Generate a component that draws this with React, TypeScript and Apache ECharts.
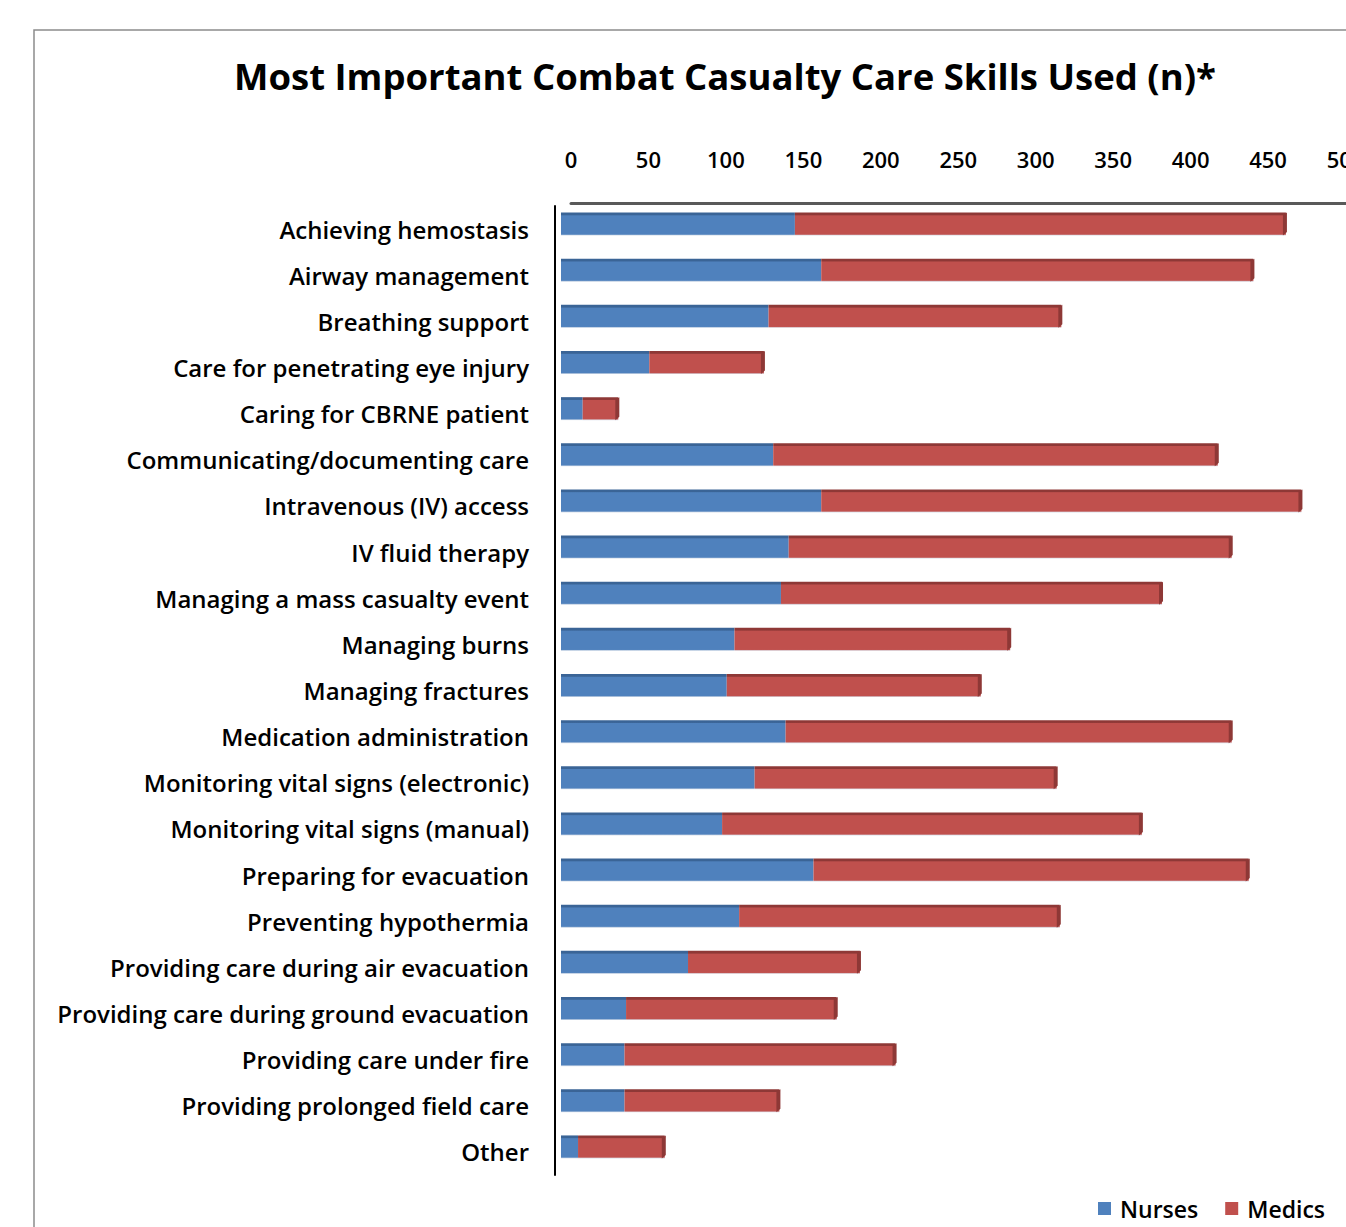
import React, { useEffect, useRef } from "react";
import * as echarts from "echarts";

const categories = [
  "Achieving hemostasis",
  "Airway management",
  "Breathing support",
  "Care for penetrating eye injury",
  "Caring for CBRNE patient",
  "Communicating/documenting care",
  "Intravenous (IV) access",
  "IV fluid therapy",
  "Managing a mass casualty event",
  "Managing burns",
  "Managing fractures",
  "Medication administration",
  "Monitoring vital signs (electronic)",
  "Monitoring vital signs (manual)",
  "Preparing for evacuation",
  "Preventing hypothermia",
  "Providing care during air evacuation",
  "Providing care during ground evacuation",
  "Providing care under fire",
  "Providing prolonged field care",
  "Other",
];

const nurses = [151, 168, 134, 57, 14, 137, 168, 147, 142, 112, 107, 145, 125, 104, 163, 115, 82, 42, 41, 41, 11];
const medics = [317, 279, 189, 74, 23, 287, 310, 286, 246, 178, 164, 288, 195, 271, 281, 207, 111, 136, 175, 100, 56];

const xTicks = { min: 0, max: 500, interval: 50 };

const BLUE = "#4f81bd";
const BLUE_DARK = "#3a6496";
const RED = "#c0504d";
const RED_DARK = "#8e3836";

const FONT = "'Open Sans', Lato, sans-serif";

function barGradient(dark: string, main: string) {
  return {
    type: "linear",
    x: 0,
    y: 0,
    x2: 0,
    y2: 1,
    colorStops: [
      { offset: 0, color: dark },
      { offset: 0.1, color: dark },
      { offset: 0.14, color: main },
      { offset: 0.94, color: main },
      { offset: 1, color: "#d9e0ea" },
    ],
  };
}

export default function App() {
  const ref = useRef<HTMLDivElement>(null);

  useEffect(() => {
    if (!ref.current) return;
    const chart = echarts.init(ref.current, undefined, { renderer: "svg" });
    const totals = nurses.map((n, i) => n + medics[i]);

    chart.setOption({
      animation: false,
      backgroundColor: "#ffffff",
      title: {
        text: "Most Important Combat Casualty Care Skills Used (n)*",
        left: 720,
        top: 52,
        textAlign: "center",
        textStyle: {
          fontFamily: FONT,
          fontWeight: "bold",
          fontSize: 36.5,
          color: "#000000",
        },
      },
      graphic: [
        {
          type: "rect",
          z: -10,
          shape: { x: 34, y: 30, width: 1400, height: 1300 },
          style: { fill: "none", stroke: "#8c8c8c", lineWidth: 1.5 },
        },
      ],
      legend: {
        right: 16,
        top: 1192,
        itemWidth: 13,
        itemHeight: 13,
        itemGap: 27,
        icon: "rect",
        textStyle: {
          fontFamily: FONT,
          fontWeight: 600,
          fontSize: 23,
          color: "#000000",
          padding: [0, 0, 0, 4],
        },
        data: [
          { name: "Nurses", itemStyle: { color: BLUE } },
          { name: "Medics", itemStyle: { color: RED } },
        ],
      },
      grid: [
        { left: 561, top: 201, width: 774.5, height: 969, outerBoundsMode: "none" },
        { left: 571, top: 193, width: 774.5, height: 10, outerBoundsMode: "none" },
        { left: 555, top: 206, width: 774.5, height: 969, outerBoundsMode: "none" },
      ],
      xAxis: [
        {
          type: "value",
          gridIndex: 0,
          min: xTicks.min,
          max: xTicks.max,
          interval: xTicks.interval,
          show: false,
        },
        {
          type: "value",
          gridIndex: 1,
          position: "top",
          min: xTicks.min,
          max: xTicks.max,
          interval: xTicks.interval,
          axisLine: { show: true, lineStyle: { color: "#595959", width: 3 } },
          axisTick: { show: false },
          splitLine: { show: false },
          axisLabel: {
            margin: 23,
            fontFamily: FONT,
            fontWeight: 600,
            fontSize: 22,
            color: "#000000",
          },
        },
        {
          type: "value",
          gridIndex: 2,
          min: xTicks.min,
          max: xTicks.max,
          show: false,
        },
      ],
      yAxis: [
        {
          type: "category",
          gridIndex: 0,
          data: categories,
          inverse: true,
          show: false,
        },
        { type: "value", gridIndex: 1, show: false },
        {
          type: "category",
          gridIndex: 2,
          data: categories,
          inverse: true,
          axisLine: { show: true, lineStyle: { color: "#000000", width: 2 } },
          axisTick: { show: false },
          axisLabel: {
            margin: 26,
            fontFamily: FONT,
            fontWeight: 600,
            fontSize: 24,
            color: "#000000",
          },
        },
      ],
      series: [
        {
          name: "Nurses",
          type: "bar",
          stack: "total",
          xAxisIndex: 0,
          yAxisIndex: 0,
          barWidth: 23,
          itemStyle: { color: barGradient(BLUE_DARK, BLUE) },
          data: nurses,
        },
        {
          name: "Medics",
          type: "bar",
          stack: "total",
          xAxisIndex: 0,
          yAxisIndex: 0,
          barWidth: 23,
          itemStyle: { color: barGradient(RED_DARK, RED) },
          data: medics,
        },
        {
          name: "cap",
          type: "custom",
          xAxisIndex: 0,
          yAxisIndex: 0,
          z: 5,
          encode: { x: 0, y: 1 },
          data: totals.map((t, i) => [t, i]),
          renderItem: (params: any, api: any) => {
            const pt = api.coord([api.value(0), api.value(1)]);
            return {
              type: "polygon",
              shape: {
                points: [
                  [pt[0] - 3, pt[1] - 9],
                  [pt[0] + 1, pt[1] - 11.5],
                  [pt[0] + 1, pt[1] + 8],
                  [pt[0] - 3, pt[1] + 11.5],
                ],
              },
              style: { fill: RED_DARK },
            };
          },
        },
      ],
    });

    return () => chart.dispose();
  }, []);

  return (
    <div
      ref={ref}
      style={{ position: "absolute", left: 0, top: 0, width: 1346, height: 1227 }}
    />
  );
}
